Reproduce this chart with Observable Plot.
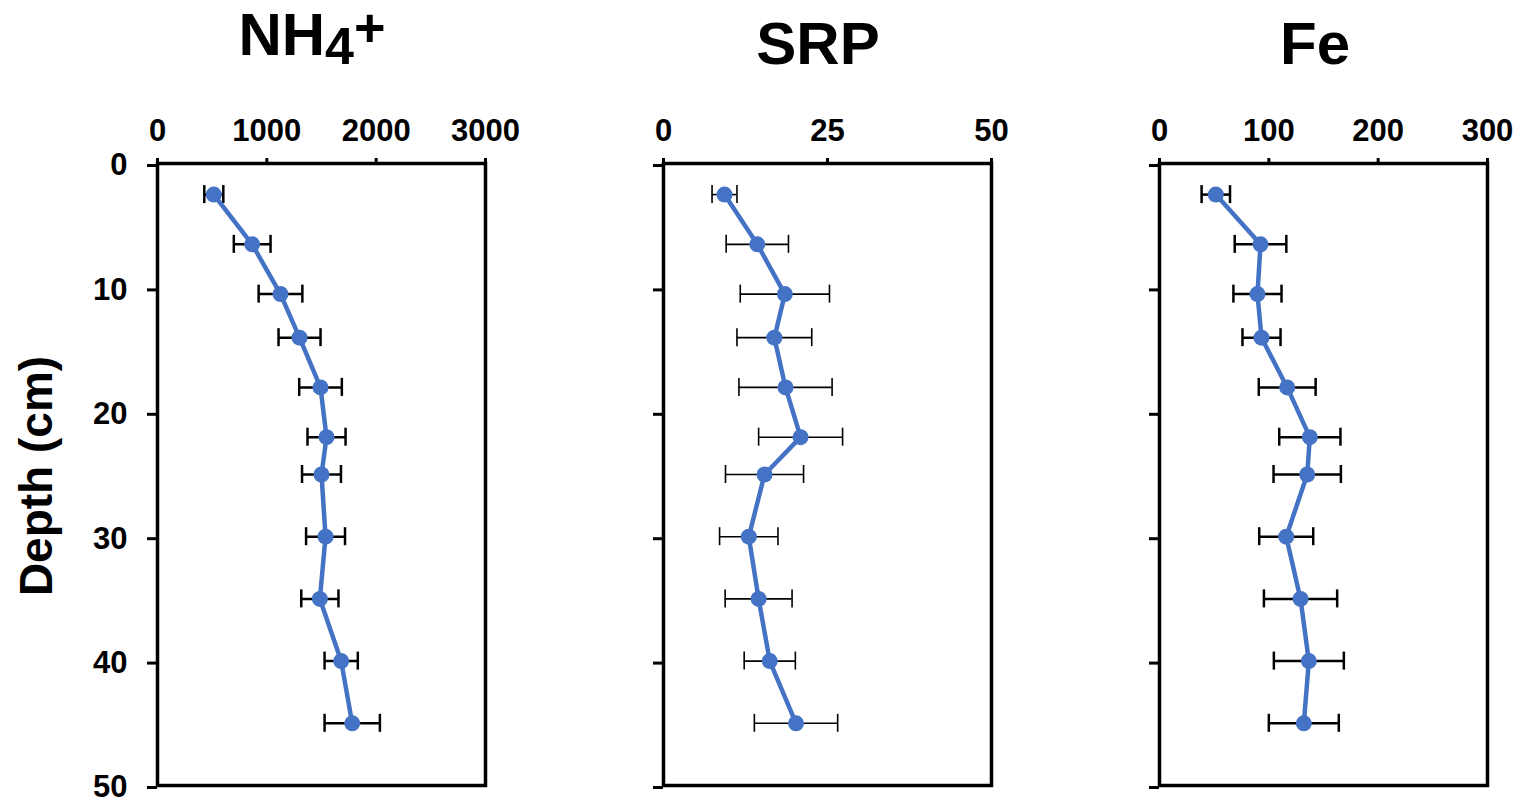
<!DOCTYPE html>
<html>
<head>
<meta charset="utf-8">
<script src="https://cdn.jsdelivr.net/npm/d3@7"></script>
<script src="https://cdn.jsdelivr.net/npm/@observablehq/plot@0.6"></script>
<style>
html, body { margin: 0; padding: 0; background: #fff; }
body { width: 1522px; height: 803px; position: relative; overflow: hidden;
  font-family: "Liberation Sans", Arial, sans-serif; color: #000; }
.title { position: absolute; font-weight: bold; font-size: 60px; line-height: 1.2;
  white-space: nowrap; transform: translateX(-50%); }
.panel { position: absolute; top: 90px; }
#ylab { position: absolute; left: 36px; top: 476px; font-weight: bold; font-size: 46px;
  white-space: nowrap; transform: translate(-50%, -50%) rotate(-90deg); }
</style>
</head>
<body>
<div class="title" style="left:312px; top:-5px;">NH<span style="font-size:52px; vertical-align:-9px;">4</span><span style="font-size:54px; vertical-align:9px;">+</span></div>
<div class="title" style="left:818px; top:8px;">SRP</div>
<div class="title" style="left:1315px; top:8px;">Fe</div>
<div id="ylab">Depth (cm)</div>
<div id="p1" class="panel" style="left:0px;"></div>
<div id="p2" class="panel" style="left:540px;"></div>
<div id="p3" class="panel" style="left:1040px;"></div>
<script>
// Depth of each sampled layer (cm)
const depth = [2.5, 6.5, 10.5, 14, 18, 22, 25, 30, 35, 40, 45];
const depthTicks = [0, 10, 20, 30, 40, 50];

// NH4+
const nh4Mean = [515, 866, 1125, 1299, 1491, 1546, 1500, 1537, 1485, 1680, 1781];
const nh4Err  = [87, 168, 200, 192, 195, 174, 178, 178, 170, 152, 253];
const nh4Ticks = [0, 1000, 2000, 3000];

// SRP
const srpMean = [9.3, 14.3, 18.5, 16.9, 18.6, 20.9, 15.4, 13.0, 14.5, 16.2, 20.2];
const srpErr  = [1.9, 4.75, 6.8, 5.7, 7.1, 6.4, 5.95, 4.45, 5.1, 3.9, 6.35];
const srpTicks = [0, 25, 50];

// Fe
const feMean = [51.5, 92.4, 89.6, 93.3, 116.8, 137.5, 135.1, 115.9, 129, 136.6, 132];
const feErr  = [13, 23.6, 22, 17.4, 26, 28, 30.8, 24.7, 33.5, 32, 32];
const feTicks = [0, 100, 200, 300];

const FONT = '"Liberation Sans", Arial, sans-serif';
const BLUE = "#4472C4";

function panel({mean, err, xTicks, width, marginLeft, marginRight, yLabels, barWidth}) {
  const rows = depth.map((d, i) => ({depth: d, mean: mean[i], lo: mean[i] - err[i], hi: mean[i] + err[i]}));
  return Plot.plot({
    width, height: 713,
    marginTop: 73, marginBottom: 18, marginLeft, marginRight,
    style: {fontFamily: FONT, fontWeight: "bold", fontSize: "31px", color: "#000", background: "transparent", overflow: "visible"},
    x: {domain: [xTicks[0], xTicks[xTicks.length - 1]]},
    y: {domain: [0, 50], reverse: true},
    marks: [
      Plot.axisX({anchor: "top", ticks: xTicks, tickSize: 6, tickPadding: 17, fontSize: 31, fontWeight: "bold",
        strokeWidth: 3, stroke: "#000", fill: "#000", label: null, tickFormat: d => String(d)}),
      Plot.axisY({anchor: "left", ticks: depthTicks, tickSize: 10, tickPadding: 20, fontSize: 31, fontWeight: "bold",
        strokeWidth: 3, stroke: "#000", fill: "#000", label: null, dy: 2,
        tickFormat: yLabels ? d => String(d) : () => ""}),
      Plot.frame({stroke: "#000", strokeWidth: 3.5}),
      Plot.ruleY(rows, {y: "depth", x1: "lo", x2: "hi", stroke: "#000", strokeWidth: barWidth}),
      Plot.ruleX(rows, {x: "lo", y1: "depth", y2: "depth", insetTop: -9, insetBottom: -9, stroke: "#000", strokeWidth: barWidth}),
      Plot.ruleX(rows, {x: "hi", y1: "depth", y2: "depth", insetTop: -9, insetBottom: -9, stroke: "#000", strokeWidth: barWidth}),
      Plot.line(rows, {x: "mean", y: "depth", stroke: BLUE, strokeWidth: 4.5}),
      Plot.dot(rows, {x: "mean", y: "depth", r: 8, fill: BLUE, stroke: "none"})
    ]
  });
}

document.getElementById("p1").append(panel({mean: nh4Mean, err: nh4Err, xTicks: nh4Ticks, width: 520, marginLeft: 157, marginRight: 35, yLabels: true, barWidth: 2.5}));
document.getElementById("p2").append(panel({mean: srpMean, err: srpErr, xTicks: srpTicks, width: 480, marginLeft: 123, marginRight: 29, yLabels: false, barWidth: 1.6}));
document.getElementById("p3").append(panel({mean: feMean, err: feErr, xTicks: feTicks, width: 482, marginLeft: 119, marginRight: 35, yLabels: false, barWidth: 2.5}));
</script>
</body>
</html>
